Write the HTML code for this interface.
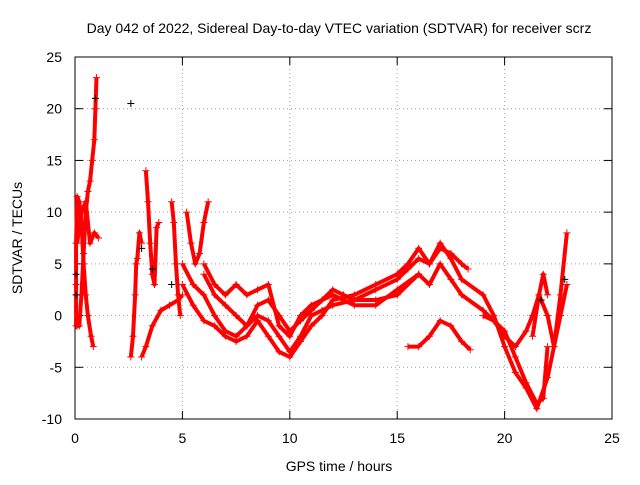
<!DOCTYPE html>
<html><head><meta charset="utf-8"><style>
body{margin:0;background:#fff}
svg{font-family:"Liberation Sans",sans-serif}
</style></head><body>
<svg width="640" height="480">
<g id="grid"></g>
<rect x="75" y="57" width="537" height="362" fill="none" stroke="#000"/>
<g id="ticks"></g>
<g id="series"></g>
<text x="339" y="33" text-anchor="middle" font-size="14">Day 042 of 2022, Sidereal Day-to-day VTEC variation (SDTVAR) for receiver scrz</text>
<text x="339" y="471" text-anchor="middle" font-size="14">GPS time / hours</text>
<text x="22" y="238" text-anchor="middle" font-size="14" transform="rotate(-90 22 238)">SDTVAR / TECUs</text>
</svg>
<script>
const xTicks=[0,5,10,15,20,25];
const yTicks=[-10,-5,0,5,10,15,20,25];
const track1=[[0.05,-1],[0.05,3],[0.05,7],[0.1,11.5],[0.2,11],[0.3,9],[0.4,5],[0.5,2],[0.6,0],[0.75,-2],[0.85,-3]];
const track2=[[0.1,-1],[0.2,-1],[0.3,2],[0.4,6],[0.5,10],[0.6,12],[0.7,13],[0.8,15],[0.9,17],[0.95,20],[1.0,23]];
const track3=[[0.1,7],[0.3,10],[0.5,11],[0.7,7],[0.9,8],[1.1,7.5]];
const track4=[[2.6,-4],[2.7,-2],[2.8,2],[2.85,5],[2.9,5.5],[3.0,8],[3.1,7]];
const track5=[[3.1,-4],[3.3,-3],[3.6,-1],[4,0.5],[4.4,1],[4.8,1.5],[5,2]];
const track6=[[3.3,14],[3.4,11],[3.5,7],[3.6,4],[3.7,3],[3.8,8.5],[3.9,9]];
const track7=[[4.5,11],[4.6,9],[4.7,5],[4.8,2],[4.9,0]];
const track8=[[5.2,10],[5.4,7],[5.6,5],[5.8,6],[6,9],[6.2,11]];
const band1=[[5,5],[5.5,3],[6,2],[6.5,0],[7,-1.5],[7.5,-2],[8,-1],[8.5,0],[9,-0.5],[9.5,-2],[10,-3.5],[10.5,-2],[11,0],[11.5,0.5],[12,1],[13,1.5],[14,2.5],[15,3.5],[15.5,4.5],[16,5.5],[16.5,5],[17,6.5],[17.5,6],[18,5],[18.3,4.5]];
const band2=[[5,3],[5.5,1],[6,-0.5],[6.5,-1],[7,-2],[7.5,-2.5],[8,-2],[8.5,-0.5],[9,-2],[9.5,-3.5],[10,-4],[10.5,-2.5],[11,-1],[11.5,0],[12,1.5],[13,2],[14,3],[15,4],[15.5,5],[16,6.5],[16.5,5],[17,7],[17.5,5.5],[18,3.5],[19,2],[19.5,0],[20,-3],[20.5,-5.5],[21,-7],[21.5,-9],[22,-6],[22.3,-3],[22.6,2],[22.9,8]];
const band3=[[6,5],[6.5,3],[7,2],[7.5,3],[8,2],[8.5,2.5],[9,3],[9.5,-1],[10,-2],[10.5,0],[11,1],[12,2],[13,1],[14,1],[15,2.5],[16,4],[16.5,3],[17,5],[17.5,3.5],[18,2],[19,0.5],[20,-1.5],[20.5,-4],[21,-6.5],[21.5,-8.5],[21.8,-8],[22,-3]];
const band4=[[6,4],[6.5,2],[7,1],[7.5,0],[8,-1],[8.5,1],[9,1.5],[9.5,0],[10,-1.5],[10.5,-0.5],[11,0.5],[11.5,1.5],[12,2.5],[12.5,2],[13,1.5],[14,1.5],[15,2],[16,4]];
const track9=[[15.5,-3],[16,-3],[16.5,-2],[17,-0.5],[17.5,-1],[18,-2.5],[18.4,-3.3]];
const track10=[[19,0],[19.5,-0.5],[20,-2],[20.5,-3],[21,-1.5],[21.3,0],[21.6,2],[22,0],[22.3,-3],[22.6,0],[22.9,3]];
const track11=[[21.3,-2],[21.6,2],[21.8,4],[22,2]];
const blackPts=[[0.05,2],[0.05,4],[0.95,21],[2.6,20.5],[3.1,6.5],[3.6,4.5],[4.5,3],[21.7,1.5],[22.8,3.5]];
const tracks=[track1,track2,track3,track4,track5,track6,track7,track8,band1,band2,band3,band4,track9,track10,track11];

const NS="http://www.w3.org/2000/svg";
const X=h=>75+h*537/25;
const Y=v=>57+(25-v)*362/35;
const grid=document.getElementById('grid'),ticks=document.getElementById('ticks'),ser=document.getElementById('series');
function mk(tag,attrs,parent){const e=document.createElementNS(NS,tag);for(const k in attrs)e.setAttribute(k,attrs[k]);parent.appendChild(e);return e;}
xTicks.forEach(t=>{
  const x=X(t);
  if(t>0&&t<25){const g=mk('line',{x1:x,x2:x,y1:57,y2:419,stroke:'#a0a0a0','stroke-dasharray':'1,3'},grid);
  
  }
  mk('line',{x1:x,x2:x,y1:419,y2:411,stroke:'#000'},ticks);
  mk('line',{x1:x,x2:x,y1:57,y2:65,stroke:'#000'},ticks);
  const l=mk('text',{x:x,y:443,'text-anchor':'middle','font-size':14},ticks);
  l.textContent=t;
  
  
});
yTicks.forEach(t=>{
  const y=Y(t);
  if(t>-10&&t<25){const g=mk('line',{x1:75,x2:612,y1:y,y2:y,stroke:'#a0a0a0','stroke-dasharray':'1,3'},grid);
  
  }
  mk('line',{x1:75,x2:83,y1:y,y2:y,stroke:'#000'},ticks);
  mk('line',{x1:612,x2:604,y1:y,y2:y,stroke:'#000'},ticks);
  const l=mk('text',{x:62,y:y+5,'text-anchor':'end','font-size':14},ticks);
  l.textContent=t;
  
  
});
function plus(h,v,color,name){
  const x=X(h),y=Y(v);
  const p=mk('path',{d:`M${x-3.5},${y}H${x+3.5}M${x},${y-3.5}V${y+3.5}`,stroke:color,'stroke-width':1},ser);
  
  
}
tracks.forEach(tr=>{
  const d=tr.map((p,i)=>(i?'L':'M')+X(p[0])+','+Y(p[1])).join('');
  const pl=mk('path',{d:d,fill:'none',stroke:'#f00','stroke-width':4,'stroke-linejoin':'round'},ser);
  
  
  tr.forEach(p=>plus(p[0],p[1],'#f00','sdtvar-point'));
});
blackPts.forEach(p=>plus(p[0],p[1],'#000','sdtvar-black-point'));
</script>
</body></html>
